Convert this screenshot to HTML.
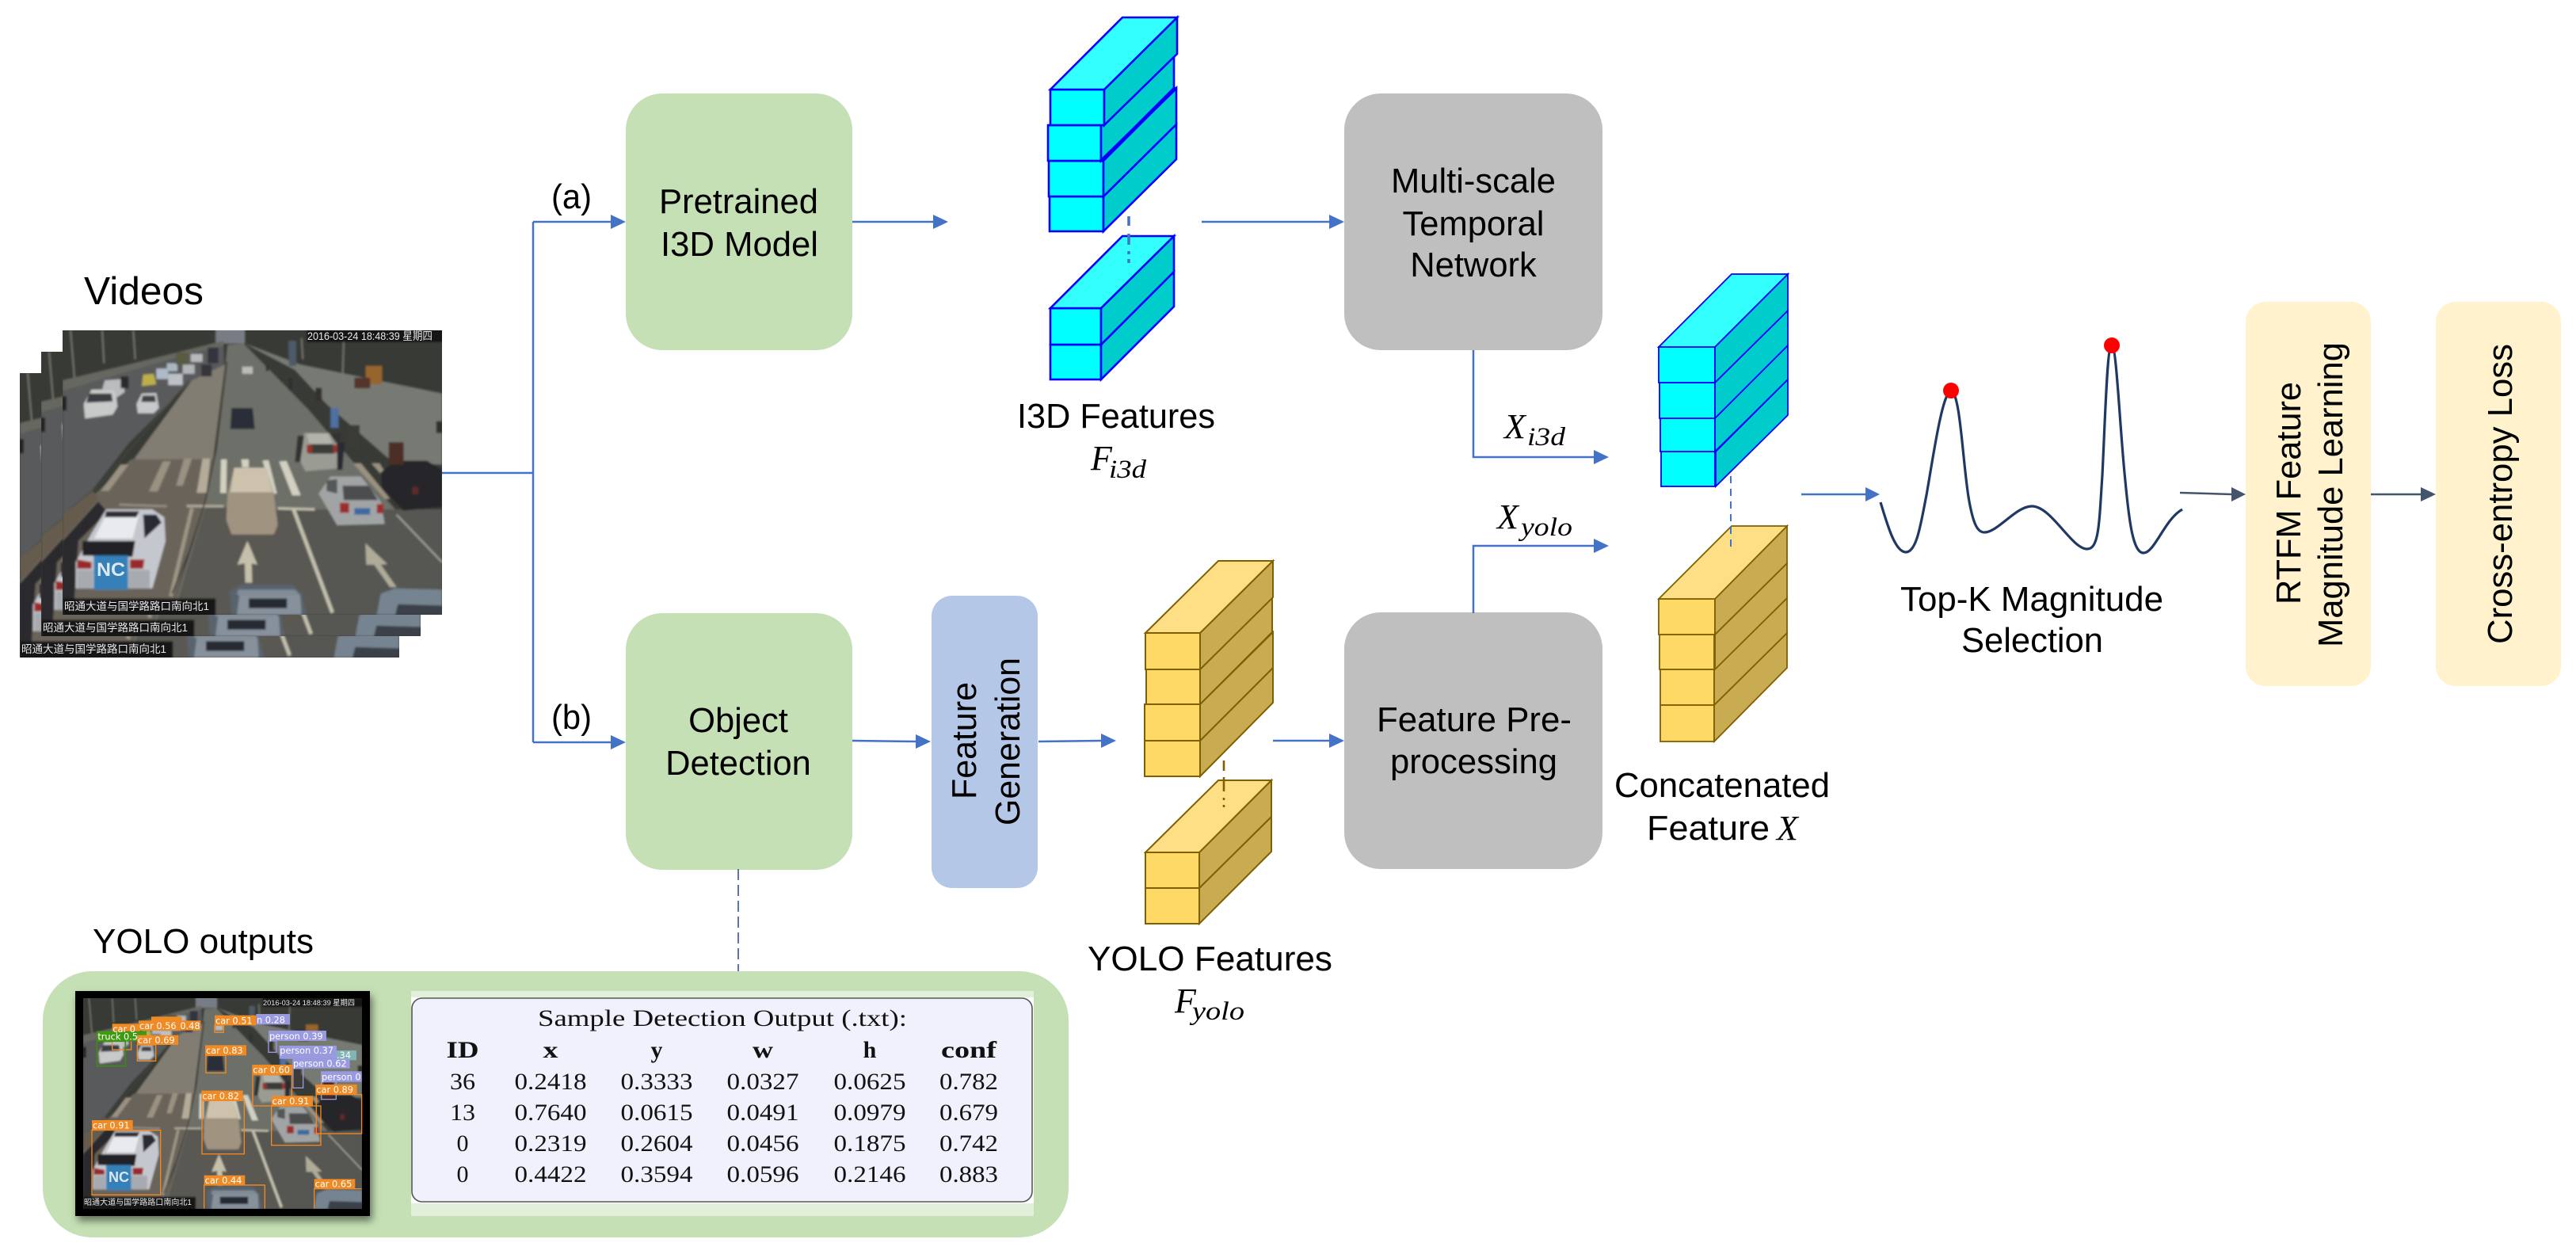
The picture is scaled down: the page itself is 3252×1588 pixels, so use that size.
<!DOCTYPE html>
<html>
<head>
<meta charset="utf-8">
<title>Diagram</title>
<style>
html,body{margin:0;padding:0;background:#fff}
svg{display:block}
.s{font-family:"Liberation Sans",Arial,sans-serif;font-size:43.5px;fill:#000}
.m{font-family:"Liberation Serif",serif;font-style:italic;fill:#000;font-size:44px}
.sub{font-family:"Liberation Serif",serif;font-style:italic;fill:#000;font-size:33px}
.t{font-family:"Liberation Serif",serif;font-size:30px;fill:#111;text-anchor:middle}
.h{font-weight:bold}
.c{font-family:"Liberation Sans","Noto Sans CJK SC",sans-serif;fill:#e8e8e8}
.l{font-family:"DejaVu Sans","Liberation Sans",sans-serif;font-size:11.5px;fill:#fff}
.b{fill:none;stroke:#4472c4;stroke-width:2.5}
.ah{fill:#4472c4}
.cy{stroke:#0000ff;stroke-width:2.6;stroke-linejoin:miter}
.cy2{stroke:#0000ff;stroke-width:1.8}
.f1{fill:#00ffff}.f2{fill:#00cccc}.f3{fill:#33ffff}
.ye{stroke:#7f6000;stroke-width:2}
.g1{fill:#ffd966}.g2{fill:#c9ac52}.g3{fill:#ffdf85}
</style>
</head>
<body>
<svg xmlns="http://www.w3.org/2000/svg" width="3252" height="1588" viewBox="0 0 3252 1588">
<defs>
<filter id="bl" x="-2%" y="-2%" width="104%" height="104%"><feGaussianBlur stdDeviation="4"/></filter>
<filter id="shd" x="-10%" y="-10%" width="120%" height="120%"><feDropShadow dx="3" dy="6" stdDeviation="5" flood-color="#000" flood-opacity=".5"/></filter>
<symbol id="scene" viewBox="0 0 1437 1080" preserveAspectRatio="none">
<g filter="url(#bl)">
<rect x="-10" y="-10" width="1460" height="1100" fill="#393a36"/>
<rect x="580" y="-10" width="110" height="60" fill="#787d85"/>
<polygon points="0,190 250,130 610,40 610,80 200,190 0,240" fill="#666760"/>
<polygon points="0,230 200,170 480,90 610,60 612,140 490,190 250,430 110,610 0,700" fill="#585a5b"/>
<polygon points="490,190 615,130 570,490 270,490" fill="#827d72"/>
<polygon points="125,620 260,490 572,490 540,670 490,800 410,1080 0,1080 0,790" fill="#6b645a"/>
<polygon points="0,700 115,610 135,640 0,790" fill="#655c4e"/>
<polygon points="0,800 135,650 170,690 60,800 45,1020 0,1020" fill="#2b2c2d"/>
<polygon points="625,55 685,50 930,300 1100,500 1437,880 1437,1080 410,1080 540,660 580,450" fill="#6d6f68"/>
<polygon points="690,50 900,130 1437,240 1437,510 1250,500 1000,280 880,150" fill="#777a73"/>
<polygon points="540,670 870,680 1030,1080 420,1080" fill="#5a5952"/>
<polygon points="870,680 1437,680 1437,1080 1030,1080" fill="#565752"/>
<g stroke="#7d7d74" stroke-width="5"><line x1="30" y1="0" x2="45" y2="180"/><line x1="150" y1="0" x2="157" y2="125"/><line x1="268" y1="0" x2="275" y2="110"/><line x1="1065" y1="40" x2="1060" y2="190"/><line x1="905" y1="30" x2="910" y2="110"/></g>
<polygon points="855,40 885,40 885,135 858,135" fill="#4e5a68"/>
<g fill="#d2d0c1">
<polygon points="600,490 622,490 620,618 597,618"/><polygon points="677,490 705,490 705,520 680,520"/><polygon points="757,495 780,493 812,620 795,620"/><polygon points="820,498 848,496 902,627 870,627"/>
</g>
<g fill="#9a9181">
<polygon points="530,487 560,487 545,617 508,617" fill="#b4ab98"/><polygon points="460,487 490,487 455,590 430,590"/><polygon points="380,497 410,497 360,612 327,612"/><polygon points="220,510 250,510 175,610 145,610"/><polygon points="1100,505 1130,505 1240,640 1220,640"/><polygon points="1170,505 1200,505 1225,545 1205,545"/>
</g>
<g fill="none" stroke-linecap="butt">
<line x1="470" y1="667" x2="610" y2="668" stroke="#b0ab9b" stroke-width="9"/><line x1="815" y1="676" x2="955" y2="680" stroke="#c4c0ae" stroke-width="9"/><line x1="215" y1="662" x2="395" y2="668" stroke="#968f80" stroke-width="8"/>
<line x1="875" y1="680" x2="1022" y2="1072" stroke="#c4c0ae" stroke-width="14"/><line x1="490" y1="675" x2="410" y2="1010" stroke="#9d9685" stroke-width="14"/><line x1="1265" y1="700" x2="1437" y2="880" stroke="#a5a59d" stroke-width="6"/>
<polyline points="622,120 582,450 540,650 480,840 415,1000" stroke="#3a3833" stroke-width="5"/><line x1="480" y1="190" x2="120" y2="610" stroke="#46463f" stroke-width="4"/>
</g>
<polygon points="700,800 738,890 716,885 718,958 692,958 690,885 662,890" fill="#c4c0aa"/>
<polygon points="1147,808 1230,888 1205,890 1265,975 1240,975 1180,890 1150,890" fill="#aeab98"/>
<polygon points="50,980 50,880 110,770 165,680 340,680 385,710 390,800 340,980" fill="#c4c7cd"/>
<polygon points="120,790 165,700 290,700 265,790" fill="#e8eaee"/>
<polygon points="165,687 290,687 280,710 160,710" fill="#2d2f35"/>
<polygon points="305,700 355,700 375,730 310,790" fill="#2a2c33"/>
<polygon points="75,800 275,800 265,860 75,855" fill="#232428"/>
<polygon points="55,870 110,880 110,905 55,905" fill="#9a2b2b"/><polygon points="255,870 310,870 305,905 255,905" fill="#9a2b2b"/>
<rect x="55" y="910" width="60" height="70" fill="#a7aaaf"/><rect x="250" y="910" width="80" height="70" fill="#a7aaaf"/>
<rect x="118" y="855" width="130" height="130" fill="#3480b8"/>
<polygon points="625,620 650,522 770,522 800,620 815,740 800,775 640,775 620,720" fill="#a09380"/>
<polygon points="650,522 770,522 795,615 635,615" fill="#cdc3ad"/>
<polygon points="1015,555 1130,555 1205,650 1220,735 1040,740 970,620" fill="#a1a4a5"/>
<polygon points="1060,590 1160,590 1195,645 1065,645" fill="#4b4e50"/>
<polygon points="1000,570 1040,565 1040,620 1000,610" fill="#54585a"/>
<rect x="1050" y="655" width="35" height="38" fill="#9a2f2f"/><rect x="1190" y="660" width="25" height="35" fill="#9a2f2f"/>
<rect x="1105" y="675" width="60" height="25" fill="#3c6aa0"/>
<polygon points="1260,495 1380,495 1437,530 1437,670 1290,685 1210,600 1205,540" fill="#26272a"/>
<rect x="1325" y="595" width="22" height="28" fill="#5e2a2a"/>
<polygon points="915,390 1010,390 1040,440 1040,525 920,535 890,480" fill="#9a9b92"/>
<polygon points="925,392 1005,392 1022,432 935,432" fill="#b2b3ac"/>
<polygon points="935,432 1025,432 1030,468 930,468" fill="#3b3b39"/>
<rect x="925" y="435" width="20" height="30" fill="#9a302a"/><rect x="1025" y="435" width="15" height="30" fill="#9a302a"/>
<polygon points="890,400 915,400 900,500 880,500" fill="#333"/><polygon points="1040,425 1068,425 1060,530 1040,530" fill="#2b2b30"/><polygon points="1010,392 1055,392 1050,430" fill="#333"/>
<polygon points="640,295 720,295 728,375 635,375" fill="#2a2e38"/>
<polygon points="110,225 200,225 208,290 190,320 85,335 80,280" fill="#c8c9c9"/><polygon points="100,240 185,240 190,270 90,275" fill="#3a3d42"/>
<polygon points="160,190 230,185 235,235 205,255 195,225 150,225" fill="#bbbcbe"/><rect x="220" y="175" width="30" height="45" fill="#2a2a2a"/>
<polygon points="300,240 355,238 365,295 345,315 285,315 280,280" fill="#c7c8ca"/><polygon points="303,248 350,248 353,272 298,272" fill="#3f4247"/>
<polygon points="305,168 345,165 355,205 300,212" fill="#bcae4c"/>
<rect x="355" y="145" width="45" height="40" fill="#aeb9c8"/><rect x="400" y="165" width="55" height="43" fill="#bcc1c7"/><rect x="395" y="125" width="40" height="30" fill="#a9b5bf"/><rect x="455" y="130" width="45" height="35" fill="#b2b6b9"/><rect x="485" y="90" width="45" height="30" fill="#b7b9bb"/><rect x="525" y="130" width="40" height="45" fill="#34363a"/><rect x="550" y="65" width="40" height="60" fill="#31363d"/><rect x="430" y="85" width="45" height="45" fill="#5a5a3f"/><rect x="680" y="138" width="40" height="27" fill="#bcbcb6"/>
<rect x="855" y="180" width="17" height="45" fill="#2e3330"/><rect x="958" y="218" width="24" height="50" fill="#36332e"/><rect x="1015" y="295" width="30" height="75" fill="#5070a0"/><rect x="1080" y="360" width="45" height="90" fill="#3b3b38"/><rect x="1235" y="425" width="57" height="85" fill="#4c2f28"/><rect x="770" y="130" width="10" height="25" fill="#333"/>
<rect x="1148" y="135" width="62" height="70" fill="#96652f"/><rect x="1105" y="180" width="60" height="40" fill="#55302b"/><rect x="0" y="250" width="15" height="55" fill="#222"/><rect x="1415" y="345" width="22" height="45" fill="#2f3029"/>
<polygon points="640,1080 632,990 680,965 870,965 905,1000 925,1080" fill="#59636d"/><polygon points="665,985 880,985 900,1005 660,1005" fill="#808b95"/><polygon points="670,1005 900,1005 905,1080 660,1080" fill="#87919c"/><rect x="705" y="1018" width="145" height="37" fill="#272b30"/>
<polygon points="1190,1080 1205,1000 1260,980 1437,985 1437,1080" fill="#748490"/><polygon points="1270,1040 1437,1045 1437,1080 1260,1080" fill="#3a4048"/>
<rect x="0" y="1018" width="580" height="70" fill="#121212"/>
<rect x="925" y="-5" width="520" height="50" fill="#121212"/>
</g>
</symbol>
</defs>

<!-- Videos -->
<text class="s" x="106" y="384" style="font-size:49px" textLength="151" lengthAdjust="spacingAndGlyphs">Videos</text>
<use href="#scene" x="25" y="471" width="479" height="359"/>
<text class="c" x="27" y="824" style="font-size:13.5px" textLength="183" lengthAdjust="spacingAndGlyphs">昭通大道与国学路路口南向北1</text>
<use href="#scene" x="52" y="444" width="479" height="359"/>
<text class="c" x="54" y="797" style="font-size:13.5px" textLength="183" lengthAdjust="spacingAndGlyphs">昭通大道与国学路路口南向北1</text>
<use href="#scene" x="79" y="417" width="479" height="359"/>
<text class="c" x="81" y="770" style="font-size:13.5px" textLength="183" lengthAdjust="spacingAndGlyphs">昭通大道与国学路路口南向北1</text>
<text class="c" x="388" y="429" style="font-size:14px" textLength="158" lengthAdjust="spacingAndGlyphs">2016-03-24 18:48:39 星期四</text>
<text x="122" y="727" style="font-family:'Liberation Sans',sans-serif;font-size:24px;font-weight:bold;fill:#dce9f3" textLength="36" lengthAdjust="spacingAndGlyphs">NC</text>

<!-- left connectors -->
<path class="b" d="M558 597H673M673 280V937M673 280H772M673 937H772"/>
<polygon class="ah" points="771,271 790,280 771,289"/>
<polygon class="ah" points="771,928 790,937 771,946"/>
<text class="s" x="696" y="263" textLength="51" lengthAdjust="spacingAndGlyphs">(a)</text>
<text class="s" x="696" y="920" textLength="51" lengthAdjust="spacingAndGlyphs">(b)</text>

<!-- Boxes -->
<rect x="790" y="118" width="286" height="324" rx="46" fill="#c5e0b4"/>
<rect x="790" y="774" width="286" height="324" rx="46" fill="#c5e0b4"/>
<rect x="1697" y="118" width="326" height="324" rx="46" fill="#bfbfbf"/>
<rect x="1697" y="773" width="326" height="324" rx="46" fill="#bfbfbf"/>
<rect x="1176" y="752" width="134" height="369" rx="26" fill="#b4c7e7"/>
<rect x="2835" y="381" width="158" height="485" rx="25" fill="#fff2cc"/>
<rect x="3075" y="381" width="158" height="485" rx="25" fill="#fff2cc"/>

<text class="s" x="832" y="269" textLength="201" lengthAdjust="spacingAndGlyphs">Pretrained</text>
<text class="s" x="834" y="323" textLength="199" lengthAdjust="spacingAndGlyphs">I3D Model</text>
<text class="s" x="932" y="924" text-anchor="middle">Object</text>
<text class="s" x="932" y="978" text-anchor="middle">Detection</text>
<text class="s" x="1860" y="243" text-anchor="middle">Multi-scale</text>
<text class="s" x="1860" y="297" text-anchor="middle">Temporal</text>
<text class="s" x="1860" y="349" text-anchor="middle">Network</text>
<text class="s" x="1738" y="923" textLength="246" lengthAdjust="spacingAndGlyphs">Feature Pre-</text>
<text class="s" x="1755" y="976" textLength="211" lengthAdjust="spacingAndGlyphs">processing</text>
<text class="s" transform="translate(1232,1009) rotate(-90)" textLength="148" lengthAdjust="spacingAndGlyphs">Feature</text>
<text class="s" transform="translate(1287,1042) rotate(-90)" textLength="212" lengthAdjust="spacingAndGlyphs">Generation</text>
<text class="s" transform="translate(2904,763) rotate(-90)" textLength="281" lengthAdjust="spacingAndGlyphs">RTFM Feature</text>
<text class="s" transform="translate(2957,817) rotate(-90)" textLength="385" lengthAdjust="spacingAndGlyphs">Magnitude Learning</text>
<text class="s" transform="translate(3171,813) rotate(-90)" textLength="379" lengthAdjust="spacingAndGlyphs">Cross-entropy Loss</text>

<!-- Flow arrows -->
<path class="b" d="M1076 280H1180"/><polygon class="ah" points="1178,271 1197,280 1178,289"/>
<path class="b" d="M1517 280H1680"/><polygon class="ah" points="1678,271 1697,280 1678,289"/>
<path class="b" d="M1076 935L1158 936"/><polygon class="ah" points="1156,927 1175,936 1156,945"/>
<path class="b" d="M1311 936L1392 935"/><polygon class="ah" points="1390,926 1409,935 1390,944"/>
<path class="b" d="M1607 935H1680"/><polygon class="ah" points="1678,926 1697,935 1678,944"/>
<path class="b" d="M1860 442V577H2014"/><polygon class="ah" points="2012,568 2031,577 2012,586"/>
<path class="b" d="M1860 774V689H2014"/><polygon class="ah" points="2012,680 2031,689 2012,698"/>
<path class="b" d="M2274 624H2356"/><polygon class="ah" points="2355,615 2373,624 2355,633"/>
<path d="M2752 622L2818 624" fill="none" stroke="#44546a" stroke-width="2.5"/><polygon points="2817,615 2835,624 2817,633" fill="#44546a"/>
<path d="M2993 624H3058" fill="none" stroke="#44546a" stroke-width="2.5"/><polygon points="3056,615 3075,624 3056,633" fill="#44546a"/>
<path d="M932 1097V1226" fill="none" stroke="#2f5597" stroke-width="1.6" stroke-dasharray="14 6"/>

<!-- I3D stack -->
<g class="cy">
<rect class="f1" x="1325" y="248" width="68" height="44"/><polygon class="f2" points="1393,248 1485,157 1485,201 1393,292"/>
<rect class="f1" x="1324" y="203" width="69" height="45"/><polygon class="f2" points="1393,203 1485,111 1485,157 1393,248"/>
<rect class="f1" x="1323" y="158" width="67" height="45"/><polygon class="f2" points="1390,158 1482,67 1482,111 1390,203"/>
<line x1="1392" y1="201" x2="1485" y2="111" stroke-width="4"/>
<rect class="f1" x="1326" y="113" width="68" height="45"/><polygon class="f2" points="1394,113 1486,22 1486,68 1394,158"/><polygon class="f3" points="1326,113 1417,22 1486,22 1394,113"/>
<rect class="f1" x="1326" y="435" width="64" height="44"/><polygon class="f2" points="1390,435 1482,343 1482,387 1390,479"/>
<rect class="f1" x="1326" y="389" width="64" height="46"/><polygon class="f2" points="1390,389 1482,298 1482,343 1390,435"/><polygon class="f3" points="1326,389 1417,298 1482,298 1390,389"/>
</g>
<path d="M1425 273V332" fill="none" stroke="#4472c4" stroke-width="3.5" stroke-dasharray="12 10 14 8 4 6"/>
<text class="s" x="1284" y="540" textLength="250" lengthAdjust="spacingAndGlyphs">I3D Features</text>
<text class="m" x="1377" y="593">F</text><text class="sub" x="1400" y="603" textLength="47" lengthAdjust="spacingAndGlyphs">i3d</text>

<!-- YOLO stack -->
<g class="ye">
<rect class="g1" x="1445" y="935" width="70" height="45"/><polygon class="g2" points="1515,935 1607,843 1607,887 1515,980"/>
<rect class="g1" x="1445" y="889" width="70" height="46"/><polygon class="g2" points="1515,889 1607,798 1607,843 1515,935"/>
<rect class="g1" x="1447" y="845" width="68" height="44"/><polygon class="g2" points="1515,845 1606,754 1606,798 1515,889"/>
<rect class="g1" x="1446" y="799" width="69" height="46"/><polygon class="g2" points="1515,799 1607,708 1607,754 1515,845"/><polygon class="g3" points="1446,799 1538,708 1607,708 1515,799"/>
<rect class="g1" x="1446" y="1121" width="68" height="45"/><polygon class="g2" points="1514,1121 1605,1031 1605,1075 1514,1166"/>
<rect class="g1" x="1446" y="1076" width="68" height="45"/><polygon class="g2" points="1514,1076 1605,985 1605,1031 1514,1121"/><polygon class="g3" points="1446,1076 1538,985 1605,985 1514,1076"/>
</g>
<path d="M1545 960V1019" fill="none" stroke="#7f6000" stroke-width="2.6" stroke-dasharray="13 8 18 8 3 6"/>
<text class="s" x="1373" y="1225" textLength="309" lengthAdjust="spacingAndGlyphs">YOLO Features</text>
<text class="m" x="1483" y="1278">F</text><text class="sub" x="1505" y="1287" textLength="66" lengthAdjust="spacingAndGlyphs">yolo</text>

<!-- Concatenated stack -->
<g class="cy2">
<rect class="f1" x="2097" y="570" width="68" height="44"/><polygon class="f2" points="2166,570 2257,479 2257,524 2166,614"/>
<rect class="f1" x="2096" y="528" width="69" height="42"/><polygon class="f2" points="2165,528 2257,436 2257,479 2165,570"/>
<rect class="f1" x="2095" y="483" width="70" height="45"/><polygon class="f2" points="2165,483 2257,392 2257,436 2165,528"/>
<rect class="f1" x="2094" y="438" width="71" height="45"/><polygon class="f2" points="2165,438 2257,346 2257,392 2165,483"/><polygon class="f3" points="2094,438 2186,346 2257,346 2165,438"/>
</g>
<g class="ye" style="stroke-width:1.8">
<rect class="g1" x="2096" y="890" width="68" height="46"/><polygon class="g2" points="2164,890 2256,799 2256,843 2164,936"/>
<rect class="g1" x="2096" y="845" width="68" height="45"/><polygon class="g2" points="2164,845 2256,755 2256,799 2164,890"/>
<rect class="g1" x="2095" y="801" width="69" height="44"/><polygon class="g2" points="2165,801 2256,711 2256,755 2165,845"/>
<rect class="g1" x="2094" y="756" width="71" height="45"/><polygon class="g2" points="2165,756 2256,664 2256,711 2165,801"/><polygon class="g3" points="2094,756 2186,664 2256,664 2165,756"/>
</g>
<path d="M2185 601V695" fill="none" stroke="#4472c4" stroke-width="2" stroke-dasharray="9 7"/>
<text class="m" x="1899" y="553">X</text><text class="sub" x="1928" y="562" textLength="48" lengthAdjust="spacingAndGlyphs">i3d</text>
<text class="m" x="1890" y="667">X</text><text class="sub" x="1920" y="676" textLength="65" lengthAdjust="spacingAndGlyphs">yolo</text>
<text class="s" x="2038" y="1006" textLength="272" lengthAdjust="spacingAndGlyphs">Concatenated</text>
<text class="s" x="2079" y="1060" textLength="155" lengthAdjust="spacingAndGlyphs">Feature</text>
<text class="m" x="2243" y="1060">X</text>

<!-- Curve -->
<path d="M2374 634C2382 660 2392 697 2406 697C2420 697 2425 660 2432 625C2440 580 2452 494 2463 494C2475 494 2478 590 2486 633C2491 660 2496 672 2505 672C2522 672 2545 639 2565 639C2590 639 2615 693 2635 693C2650 693 2650 660 2654 600C2658 520 2660 436 2666 436C2672 436 2676 540 2683 607C2688 660 2693 698 2706 698C2720 698 2733 655 2755 643" fill="none" stroke="#1f3864" stroke-width="3.2"/>
<ellipse cx="2463" cy="493" rx="10" ry="10" fill="#ff0000"/>
<ellipse cx="2666" cy="436" rx="10" ry="10" fill="#ff0000"/>
<text class="s" x="2399" y="771" textLength="332" lengthAdjust="spacingAndGlyphs">Top-K Magnitude</text>
<text class="s" x="2476" y="823" textLength="179" lengthAdjust="spacingAndGlyphs">Selection</text>

<!-- YOLO panel -->
<text class="s" x="117" y="1203" textLength="279" lengthAdjust="spacingAndGlyphs">YOLO outputs</text>
<rect x="54" y="1226" width="1295" height="336" rx="62" fill="#c5e0b4"/>
<rect x="95" y="1251" width="372" height="284" fill="#000" filter="url(#shd)"/>
<use href="#scene" x="105" y="1260" width="352" height="266"/>
<text class="c" x="106" y="1521" style="font-size:10px" textLength="136" lengthAdjust="spacingAndGlyphs">昭通大道与国学路路口南向北1</text>
<text class="c" x="332" y="1269" style="font-size:9.5px" textLength="116" lengthAdjust="spacingAndGlyphs">2016-03-24 18:48:39 星期四</text>
<text x="137" y="1492" style="font-family:'Liberation Sans',sans-serif;font-size:18px;font-weight:bold;fill:#dce9f3" textLength="26" lengthAdjust="spacingAndGlyphs">NC</text>
<g transform="translate(90,1245) scale(.3333)">
<g fill="none" stroke="#f08a24" stroke-width="4">
<rect x="78" y="545" width="260" height="245"/><rect x="495" y="433" width="160" height="202"/><rect x="687" y="335" width="148" height="118"/><rect x="758" y="453" width="187" height="149"/><rect x="928" y="410" width="172" height="148"/><rect x="510" y="262" width="75" height="66"/><rect x="250" y="222" width="70" height="61"/><rect x="543" y="148" width="34" height="27"/><path d="M503 842V753H733V842M920 842V767H1100"/><rect x="155" y="178" width="72" height="62"/>
</g>
<rect x="97" y="208" width="108" height="94" fill="none" stroke="#3f8a12" stroke-width="5"/>
<g fill="none" stroke="#9a9ae0" stroke-width="4"><rect x="747" y="207" width="30" height="43"/><rect x="840" y="311" width="38" height="74"/><rect x="947" y="362" width="56" height="66"/></g>
<g fill="#f08a24">
<rect x="303" y="115" width="115" height="30"/><rect x="415" y="130" width="75" height="37"/><rect x="155" y="142" width="105" height="38"/><rect x="255" y="130" width="160" height="38"/>
</g>
<rect x="97" y="170" width="188" height="38" fill="#3f9a12"/>
<rect x="700" y="105" width="128" height="40" fill="#9a9ae0"/>
<rect x="747" y="168" width="219" height="39" fill="#9a9ae0"/>
<rect x="1000" y="243" width="80" height="37" fill="#7fb5b5"/>
<rect x="788" y="225" width="217" height="50" fill="#9a9ae0"/>
<rect x="838" y="275" width="217" height="36" fill="#9a9ae0"/>
<rect x="945" y="322" width="155" height="40" fill="#9a9ae0"/>
<g fill="#f08a24">
<rect x="78" y="507" width="155" height="38"/><rect x="493" y="395" width="157" height="38"/><rect x="685" y="297" width="153" height="38"/><rect x="758" y="415" width="157" height="38"/><rect x="925" y="372" width="157" height="38"/><rect x="507" y="223" width="156" height="39"/><rect x="249" y="185" width="156" height="37"/><rect x="543" y="110" width="157" height="38"/><rect x="503" y="716" width="155" height="37"/><rect x="920" y="730" width="155" height="37"/>
</g>
<g class="l" style="font-size:34px">
<text x="81" y="539">car 0.91</text><text x="496" y="427">car 0.82</text><text x="688" y="329">car 0.60</text><text x="761" y="447">car 0.91</text><text x="928" y="404">car 0.89</text><text x="510" y="255">car 0.83</text><text x="252" y="216">car 0.69</text><text x="546" y="142">car 0.51</text><text x="506" y="747">car 0.44</text><text x="923" y="760">car 0.65</text><text x="258" y="162">car 0.56</text><text x="412" y="162">0.48</text><text x="157" y="174">car 0</text><text x="100" y="202">truck 0.5</text><text x="702" y="139">n 0.28</text><text x="750" y="201">person 0.39</text><text x="790" y="255">person 0.37</text><text x="1005" y="273">.34</text><text x="840" y="304">person 0.62</text><text x="948" y="355">person 0</text>
</g>
</g>

<rect x="519" y="1251" width="786" height="284" fill="#e2efda"/>
<rect x="519" y="1259" width="786" height="260" fill="#fff"/>
<rect x="520" y="1260" width="783" height="257" rx="13" fill="#f1f1fd" stroke="#555" stroke-width="1.6"/>
<text class="t" x="912" y="1295" textLength="466" lengthAdjust="spacingAndGlyphs">Sample Detection Output (.txt):</text>
<g class="t h">
<text x="584" y="1335" textLength="41" lengthAdjust="spacingAndGlyphs">ID</text><text x="695" y="1335" textLength="19" lengthAdjust="spacingAndGlyphs">x</text><text x="829" y="1335">y</text><text x="963" y="1335" textLength="26" lengthAdjust="spacingAndGlyphs">w</text><text x="1098" y="1335">h</text><text x="1223" y="1335" textLength="70" lengthAdjust="spacingAndGlyphs">conf</text>
</g>
<g class="t">
<text x="584" y="1375" textLength="32" lengthAdjust="spacingAndGlyphs">36</text><text x="695" y="1375" textLength="91" lengthAdjust="spacingAndGlyphs">0.2418</text><text x="829" y="1375" textLength="91" lengthAdjust="spacingAndGlyphs">0.3333</text><text x="963" y="1375" textLength="91" lengthAdjust="spacingAndGlyphs">0.0327</text><text x="1098" y="1375" textLength="91" lengthAdjust="spacingAndGlyphs">0.0625</text><text x="1223" y="1375" textLength="74" lengthAdjust="spacingAndGlyphs">0.782</text>
<text x="584" y="1414" textLength="32" lengthAdjust="spacingAndGlyphs">13</text><text x="695" y="1414" textLength="91" lengthAdjust="spacingAndGlyphs">0.7640</text><text x="829" y="1414" textLength="91" lengthAdjust="spacingAndGlyphs">0.0615</text><text x="963" y="1414" textLength="91" lengthAdjust="spacingAndGlyphs">0.0491</text><text x="1098" y="1414" textLength="91" lengthAdjust="spacingAndGlyphs">0.0979</text><text x="1223" y="1414" textLength="74" lengthAdjust="spacingAndGlyphs">0.679</text>
<text x="584" y="1453">0</text><text x="695" y="1453" textLength="91" lengthAdjust="spacingAndGlyphs">0.2319</text><text x="829" y="1453" textLength="91" lengthAdjust="spacingAndGlyphs">0.2604</text><text x="963" y="1453" textLength="91" lengthAdjust="spacingAndGlyphs">0.0456</text><text x="1098" y="1453" textLength="91" lengthAdjust="spacingAndGlyphs">0.1875</text><text x="1223" y="1453" textLength="74" lengthAdjust="spacingAndGlyphs">0.742</text>
<text x="584" y="1492">0</text><text x="695" y="1492" textLength="91" lengthAdjust="spacingAndGlyphs">0.4422</text><text x="829" y="1492" textLength="91" lengthAdjust="spacingAndGlyphs">0.3594</text><text x="963" y="1492" textLength="91" lengthAdjust="spacingAndGlyphs">0.0596</text><text x="1098" y="1492" textLength="91" lengthAdjust="spacingAndGlyphs">0.2146</text><text x="1223" y="1492" textLength="74" lengthAdjust="spacingAndGlyphs">0.883</text>
</g>
</svg>
</body>
</html>
